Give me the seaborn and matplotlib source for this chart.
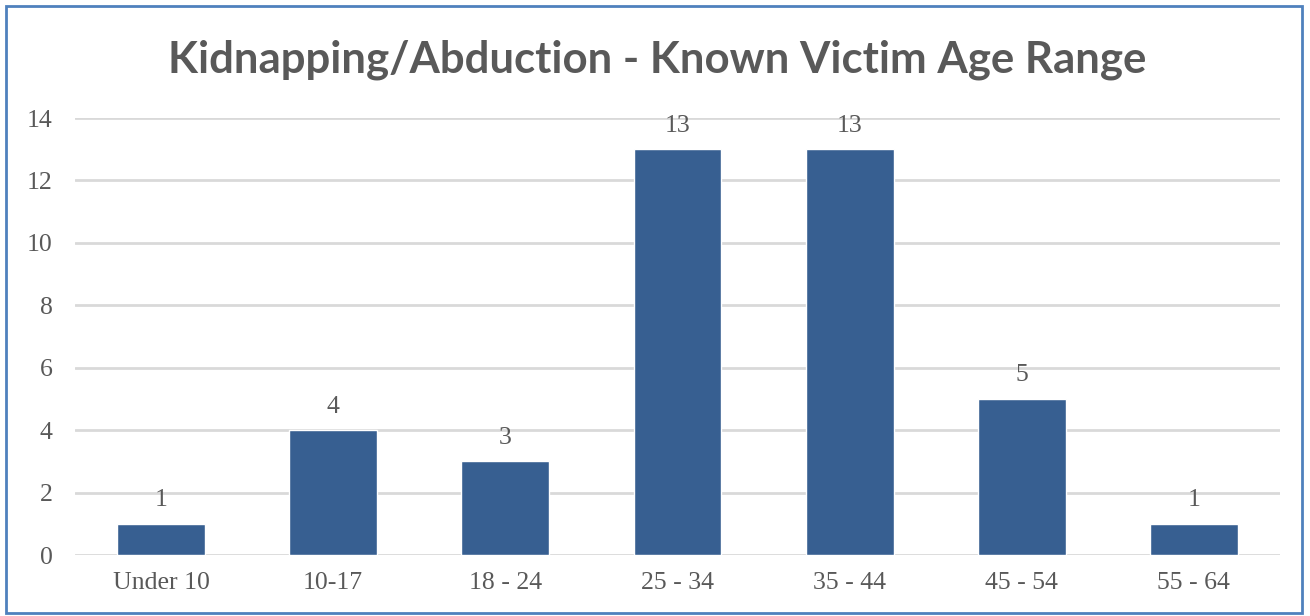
import matplotlib
matplotlib.use("Agg")
import matplotlib.pyplot as plt
import seaborn as sns
import pandas as pd
from matplotlib.patches import Rectangle

# Victim age ranges and counts
age_ranges = ["Under 10", "10-17", "18 - 24", "25 - 34", "35 - 44", "45 - 54", "55 - 64"]
victim_counts = [1, 4, 3, 13, 13, 5, 1]
y_ticks = [0, 2, 4, 6, 8, 10, 12, 14]

title_text = "Kidnapping/Abduction - Known Victim Age Range"

BAR_COLOR = "#375F91"
TEXT_COLOR = "#595959"
GRID_COLOR = "#D9D9D9"
FRAME_COLOR = "#4F81BD"

sns.set_theme(style="white")
plt.rcParams["font.family"] = ["Liberation Serif", "DejaVu Serif"]

W, H = 1310, 616
fig = plt.figure(figsize=(W / 100, H / 100), dpi=100)
fig.patch.set_facecolor("white")

ax = fig.add_axes([75 / W, 1 - 555 / H, (1280 - 75) / W, (555 - 118) / H])

df = pd.DataFrame({"age": age_ranges, "count": victim_counts})
sns.barplot(data=df, x="age", y="count", color=BAR_COLOR, saturation=1,
            width=0.51, ax=ax, zorder=3)

ax.set_xlim(-0.5, len(age_ranges) - 0.5)
ax.set_ylim(0, 14)
ax.set_yticks(y_ticks)
ax.set_xlabel("")
ax.set_ylabel("")
for s in ax.spines.values():
    s.set_visible(False)
ax.yaxis.grid(True, color=GRID_COLOR, linewidth=2, zorder=0)
ax.set_axisbelow(True)
ax.tick_params(axis="both", length=0, labelsize=18.5, labelcolor=TEXT_COLOR)
ax.tick_params(axis="y", pad=16)
ax.tick_params(axis="x", pad=12)

ax.bar_label(ax.containers[0], labels=[str(v) for v in victim_counts],
             padding=9, fontsize=18.5, color=TEXT_COLOR)

fig.text(657 / W, 1 - 72 / H, title_text, ha="center", va="baseline",
         fontsize=31.5, fontweight="bold", color=TEXT_COLOR,
         family=["Lato", "DejaVu Sans"])

fig.patches.append(Rectangle((6 / W, 1 - 613 / H), 1296 / W, 607 / H,
                             transform=fig.transFigure, fill=False,
                             edgecolor=FRAME_COLOR, linewidth=2, zorder=10))

fig.savefig("out.png", dpi=100, facecolor="white")
